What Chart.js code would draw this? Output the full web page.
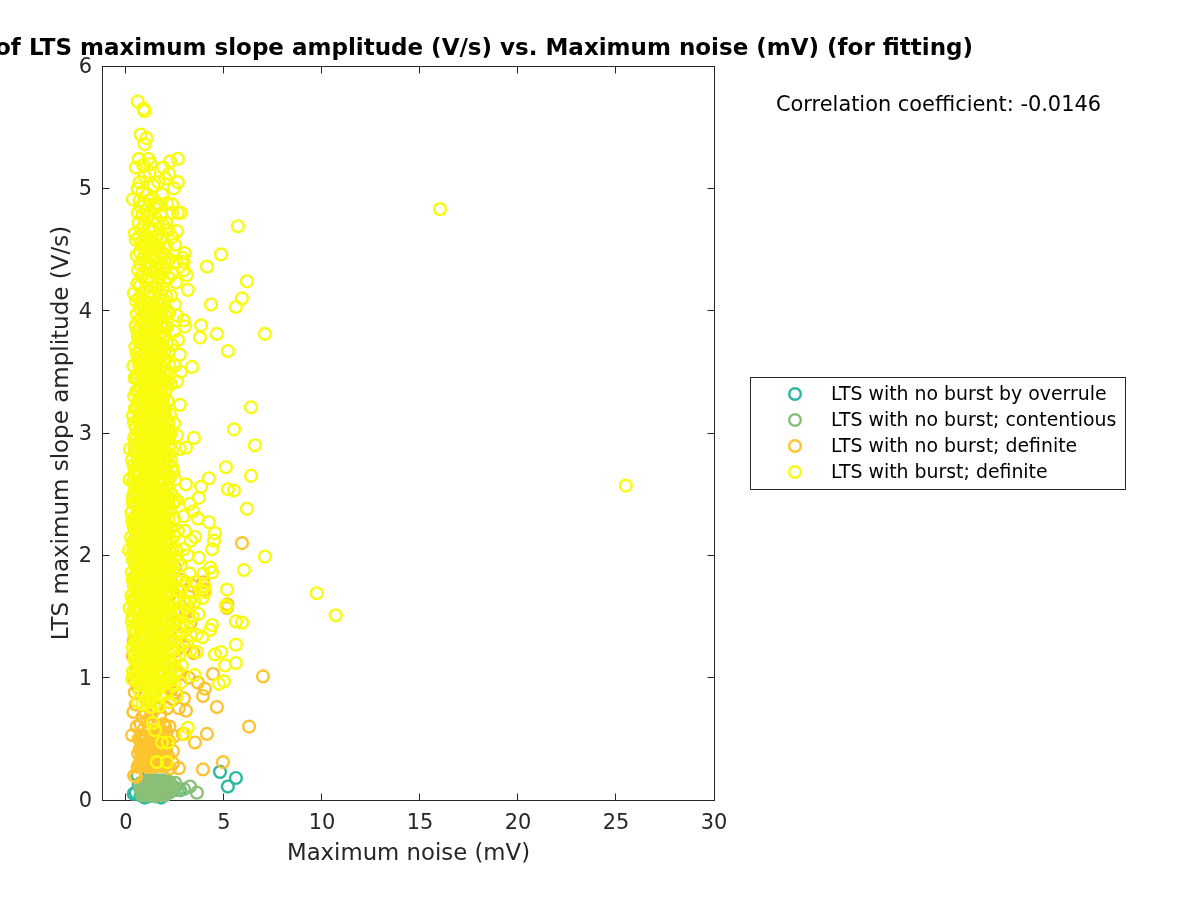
<!DOCTYPE html>
<html>
<head>
<meta charset="utf-8">
<title>LTS maximum slope amplitude vs. Maximum noise</title>
<script src="https://cdn.jsdelivr.net/npm/chart.js@4/dist/chart.umd.min.js"></script>
<style>
    body { margin: 0; background: #ffffff; }
    canvas { display: block; }
</style>
</head>
<body>
<canvas id="scatterChart" width="1200" height="900"></canvas>
<script>
// tick labels
const xTickValues = [0, 5, 10, 15, 20, 25, 30];
const yTickValues = [0, 1, 2, 3, 4, 5, 6];

// legend names
const seriesNames = ['LTS with no burst by overrule', 'LTS with no burst; contentious', 'LTS with no burst; definite', 'LTS with burst; definite'];

// values, [noise, slope]
const overrulePoints = [
    [4.8,0.23],[5.61,0.18],[5.2,0.11],[0.4,0.05],[0.5,0.06],[0.75,0.04],[0.95,0.02],[1.15,0.03],[1.6,0.03],[1.8,0.02],[1.95,0.05],
    [2.3,0.07],[2.75,0.08],[2.5,0.1],[0.6,0.2],[0.65,0.12],[1.3,0.05]
];
const contentiousPoints = [
    [3.62,0.06],[3.27,0.11],[2.96,0.09],[2.5,0.14],[2.45,0.1],[2.3,0.13],[2.62,0.08],[2.2,0.06],[2.05,0.15],[2.1,0.09],
    [0.75,0.08],[0.85,0.12],[0.9,0.06],[0.95,0.15],[1.0,0.09],[1.05,0.05],[1.1,0.13],[1.15,0.07],[1.2,0.11],[1.25,0.16],
    [1.28,0.04],[1.3,0.09],[1.35,0.13],[1.4,0.06],[1.45,0.1],[1.5,0.15],[1.52,0.05],[1.58,0.08],[1.6,0.12],[1.65,0.05],
    [1.7,0.15],[1.75,0.09],[1.8,0.06],[1.82,0.13],[1.9,0.1],[1.95,0.07],[1.98,0.14],[2.0,0.04],[1.12,0.16],[0.82,0.04],
    [1.42,0.16],[1.62,0.16],[0.92,0.11],[1.22,0.06],[1.48,0.03],[1.72,0.04],[1.88,0.16],[2.15,0.12],[2.25,0.09],[0.7,0.13],
    [0.78,0.14],[0.88,0.09],[0.98,0.12],[1.03,0.08],[1.08,0.16],[1.18,0.1],[1.26,0.13],[1.33,0.07],[1.38,0.11],[1.47,0.07],
    [1.55,0.12],[1.63,0.09],[1.68,0.12],[1.78,0.12],[1.85,0.08],[1.92,0.13],[2.02,0.11],[2.08,0.07],[2.18,0.15],[2.35,0.1],
    [0.72,0.1],[0.8,0.07],[1.0,0.05],[1.1,0.04],[1.37,0.04],[1.57,0.04],[1.77,0.05],[0.95,0.13],[1.17,0.14],[1.68,0.07]
];
const noBurstPoints = [
    [5.92,2.10],[6.99,1.01],[6.28,0.60],[4.95,0.31],[3.93,0.25],[4.64,0.76],[4.13,0.54],[4.44,1.03],[3.52,0.47],[3.06,0.73],
    [2.96,0.83],[3.67,0.96],[3.93,0.85],[4.03,0.91],[2.75,1.03],[3.2,1.0],[3.45,1.2],[4.0,1.72],[3.95,1.78],[3.05,1.55],
    [5.17,1.6],[5.15,1.57],[2.9,0.54],[2.7,0.26],[2.25,0.26],[2.4,0.4],[2.45,0.52],[2.4,0.3],[2.0,0.6],[1.55,0.75],
    [0.32,0.53],[0.35,1.18],[0.38,0.72],[0.5,0.78],[0.42,0.2],[0.52,0.19],[0.6,0.27],[0.7,0.29],[0.55,0.6],[0.65,0.5],
    [0.62,0.38],[0.72,0.42],[0.78,0.3],[0.85,0.29],[0.88,0.45],[0.9,0.35],[0.92,0.58],[0.98,0.29],[1.0,0.42],[1.02,0.32],
    [1.05,0.52],[1.08,0.28],[1.1,0.65],[1.12,0.38],[1.15,0.28],[1.18,0.48],[1.2,0.56],[1.22,0.29],[1.25,0.34],[1.28,0.44],
    [1.3,0.7],[1.32,0.27],[1.35,0.52],[1.38,0.3],[1.4,0.4],[1.42,0.62],[1.45,0.3],[1.48,0.47],[1.5,0.28],[1.52,0.36],
    [1.55,0.56],[1.58,0.28],[1.6,0.44],[1.62,0.32],[1.65,0.6],[1.68,0.29],[1.7,0.5],[1.72,0.38],[1.75,0.28],[1.78,0.44],
    [1.8,0.3],[1.82,0.56],[1.85,0.36],[1.88,0.28],[1.9,0.46],[1.92,0.62],[1.95,0.34],[1.98,0.5],[2.02,0.28],[2.05,0.42],
    [2.08,0.55],[2.1,0.29],[2.15,0.36],[2.2,0.48],[2.22,0.6],[1.1,0.82],[1.9,0.85],[2.1,0.75],[2.3,0.9],[2.55,0.88],
    [0.6,0.92],[0.45,0.98],[0.7,0.3],[0.82,0.52],[0.75,0.62],[0.85,0.68],[1.0,0.72],[1.25,0.8],[1.75,0.7],
    [0.88,0.28],[0.93,0.4],[0.97,0.5],[1.07,0.36],[1.13,0.46],[1.23,0.3],[1.27,0.52],
    [1.33,0.4],[1.37,0.3],[1.47,0.38],[1.53,0.5],[1.57,0.3],[1.67,0.42],[1.73,0.3],[1.77,0.52],
    [1.87,0.42],[1.93,0.28],[2.03,0.36],[0.85,0.36],[1.4,0.5],[0.75,0.5],[0.78,0.38],[1.1,0.27],
    // orange rings showing between the yellow ones at the edge of the cloud
    [2.3,1.12],[2.55,1.22],[2.8,1.35],[2.45,1.45],[2.7,1.62],[2.85,1.8],[2.5,1.9],[2.35,1.7],[3.2,1.7],[3.0,1.25],
    [2.6,1.05],[2.2,1.3],[2.15,0.95],[2.4,0.82],[2.7,0.75],[0.4,1.3],[0.45,0.88],[0.55,1.05],[3.3,1.45],[3.4,1.75]
];
const burstPoints = [
    // far from the main cloud
    [25.5,2.57],[16.02,4.83],[9.74,1.69],[10.7,1.51],[7.09,3.81],[7.09,1.99],[5.71,4.69],[4.85,4.46],[4.13,4.36],[6.17,4.24],
    [5.92,4.10],[5.61,4.03],[4.34,4.05],[3.83,3.88],[4.64,3.81],[3.78,3.78],[5.2,3.67],[3.37,3.54],[6.38,3.21],[5.51,3.03],
    [3.47,2.96],[6.58,2.90],[3.06,2.88],[5.1,2.72],[4.23,2.63],[6.38,2.65],[3.06,2.58],[3.83,2.56],[5.2,2.54],[5.51,2.53],
    [3.72,2.47],[6.17,2.38],[3.42,2.36],[4.23,2.27],[3.67,2.30],[4.54,2.18],[4.49,2.12],[3.52,2.15],[4.39,2.05],[3.72,1.98],
    [6.02,1.88],[4.29,1.90],[4.39,1.86],[3.95,1.85],[5.15,1.72],[5.1,1.59],[5.14,1.58],[5.61,1.46],[5.92,1.45],[4.39,1.43],
    [4.29,1.39],[5.61,1.27],[5.61,1.12],[4.85,1.21],[4.54,1.19],[5.05,1.10],[5.0,0.97],[4.74,0.95],[3.62,1.21],[4.0,1.75],
    [3.3,1.22],[3.1,1.6],[3.4,1.5],[3.7,1.52],[3.9,1.65],[4.05,1.7],[3.25,1.85],[3.55,1.78],[3.8,1.72],[3.15,2.0],
    [3.0,2.2],[3.3,2.12],[2.95,2.32],[3.25,2.42],[3.6,1.35],[3.9,1.33],[3.5,1.02],[3.16,0.59],[3.01,0.54],[1.58,0.31],
    [2.09,0.31],[1.84,0.47],[2.14,0.47],[1.38,0.63],[1.48,0.57],
    // sparse top of the cloud
    [0.6,5.71],[0.9,5.65],[0.95,5.63],[0.75,5.44],[1.05,5.41],[0.95,5.36],[0.65,5.24],[1.15,5.24],[2.65,5.24],[2.25,5.22],
    [0.5,5.17],[1.9,5.17],[0.88,5.19],[1.25,5.2],[2.0,5.08],[2.65,5.05],[2.45,5.0],[2.2,5.12],[0.35,4.91],[2.35,4.87],
    [2.8,4.8],[2.65,4.8],[2.35,4.8],[2.6,4.65],[0.45,4.63],[2.35,4.6],[2.5,4.54],[3.0,4.47],[2.95,4.4],[2.9,4.43],
    [3.1,4.29],[2.95,4.33],[3.16,4.17],[2.55,4.23],[2.6,3.96],[2.95,3.92],[3.0,3.87],[2.45,3.83],[2.65,3.76],[2.75,3.64],
    [2.2,4.42],[2.35,4.3],[2.55,4.4],[2.3,4.12],[2.5,4.05],[2.2,3.98],[2.35,3.72],[2.5,3.55],[2.8,3.5],[2.6,3.42],
    [0.7,5.05],[0.95,5.1],[1.2,5.13],[1.4,5.02],[1.65,5.05],[0.6,5.0],[0.85,4.97],[1.1,4.95],[1.35,4.92],[1.6,4.88],
    [1.85,4.95],[2.1,4.88],[0.75,4.85],[1.0,4.82],[1.25,4.79],[1.5,4.76],[1.8,4.78],[2.05,4.72],[0.65,4.72],[0.9,4.7],
    [1.15,4.67],[1.4,4.65],[1.65,4.62],[1.9,4.6],[2.15,4.66],[0.5,4.58],[0.78,4.56],[1.02,4.53],[1.28,4.55],[1.55,4.5],
    [1.78,4.48],[2.05,4.52],[0.55,4.45],[0.85,4.42],[1.1,4.4],[1.35,4.43],[1.62,4.38],[1.88,4.36],[2.1,4.4],[0.62,4.33],
    [0.92,4.3],[1.18,4.28],[1.45,4.31],[1.7,4.26],[1.95,4.24],[2.18,4.27],[0.4,4.14],[0.7,4.2],[1.0,4.18],[1.25,4.15],
    [1.52,4.19],[1.78,4.14],[2.05,4.12],[0.52,4.08],[0.8,4.05],[1.08,4.07],[1.35,4.03],[1.6,4.06],[1.85,4.01],[2.12,4.0],
    // dense body
    [0.55,3.97],[0.78,3.94],[1.0,3.98],[1.22,3.92],[1.42,3.96],[1.65,3.93],[1.88,3.9],[2.1,3.87],[0.5,3.88],[0.72,3.86],
    [0.92,3.84],[1.14,3.88],[1.34,3.83],[1.55,3.86],[1.76,3.82],[1.98,3.8],[0.62,3.78],[0.84,3.76],[1.05,3.79],[1.26,3.74],
    [1.46,3.77],[1.68,3.73],[1.9,3.71],[2.18,3.66],[0.48,3.7],[0.7,3.68],[0.95,3.66],[1.16,3.69],[1.38,3.64],[1.58,3.67],
    [1.8,3.63],[2.02,3.6],[0.6,3.6],[0.82,3.58],[1.03,3.56],[1.24,3.6],[1.44,3.55],[1.64,3.58],[1.85,3.54],[2.1,3.5],
    [0.38,3.55],[0.72,3.5],[0.93,3.48],[1.13,3.52],[1.33,3.47],[1.53,3.5],[1.73,3.46],[1.95,3.44],[0.55,3.45],[0.82,3.42],
    [1.02,3.4],[1.22,3.44],[1.42,3.39],[1.62,3.42],[1.82,3.38],[2.05,3.36],[2.3,3.4],[0.62,3.35],[0.9,3.33],[1.1,3.31],
    [1.3,3.35],[1.5,3.3],[1.7,3.33],[1.9,3.29],[0.42,3.3],[0.72,3.26],[0.98,3.24],[1.18,3.27],[1.38,3.22],[1.58,3.25],
    [1.78,3.21],[2.0,3.2],[2.75,3.23],[0.55,3.2],[0.82,3.17],[1.05,3.15],[1.25,3.19],[1.45,3.14],[1.65,3.17],[1.85,3.13],
    [2.25,3.15],[0.36,3.14],[0.68,3.1],[0.92,3.08],[1.12,3.11],[1.32,3.06],[1.52,3.09],[1.72,3.05],[1.95,3.03],[2.45,3.08],
    [0.5,3.04],[0.78,3.01],[1.0,2.99],[1.2,3.03],[1.4,2.98],[1.6,3.01],[1.8,2.97],[2.05,2.95],[2.6,2.98],[0.42,2.96],
    [0.66,2.92],[0.88,2.9],[1.08,2.94],[1.28,2.89],[1.48,2.92],[1.68,2.88],[1.9,2.86],[2.2,2.9],[0.2,2.87],[0.45,2.85],
    [0.72,2.83],[0.96,2.81],[1.16,2.85],[1.36,2.8],[1.56,2.83],[1.76,2.79],[2.0,2.77],[2.75,2.87],[0.32,2.78],[0.6,2.76],
    [0.84,2.73],[1.04,2.77],[1.24,2.72],[1.44,2.75],[1.64,2.71],[1.85,2.69],[2.35,2.72],[0.45,2.7],[0.7,2.67],[0.92,2.65],
    [1.12,2.69],[1.32,2.64],[1.52,2.67],[1.72,2.63],[1.95,2.61],[0.18,2.62],[0.36,2.6],[0.6,2.58],[0.82,2.56],[1.02,2.6],
    [1.22,2.55],[1.42,2.58],[1.62,2.54],[1.82,2.52],[2.2,2.55],[2.5,2.62],[0.42,2.52],[0.68,2.49],[0.9,2.47],[1.1,2.51],
    [1.3,2.46],[1.5,2.49],[1.7,2.45],[1.92,2.43],[2.6,2.45],[0.34,2.43],[0.56,2.41],[0.78,2.38],[0.98,2.42],[1.18,2.37],
    [1.38,2.4],[1.58,2.36],[1.78,2.34],[2.1,2.38],[2.45,2.3],[0.28,2.35],[0.48,2.32],[0.7,2.3],[0.9,2.28],[1.1,2.32],
    [1.3,2.27],[1.5,2.3],[1.7,2.26],[1.95,2.24],[2.65,2.2],[0.38,2.24],[0.6,2.21],[0.82,2.19],[1.02,2.23],[1.22,2.18],
    [1.42,2.21],[1.62,2.17],[1.82,2.15],[2.25,2.12],[0.26,2.15],[0.48,2.12],[0.7,2.1],[0.92,2.08],[1.12,2.12],[1.32,2.07],
    [1.52,2.1],[1.72,2.06],[1.95,2.04],[2.55,2.05],[0.16,2.04],[0.36,2.03],[0.58,2.0],[0.8,1.98],[1.0,2.02],[1.2,1.97],
    [1.4,2.0],[1.6,1.96],[1.8,1.94],[2.15,1.98],[2.8,1.92],[0.44,1.94],[0.66,1.91],[0.88,1.89],[1.08,1.93],[1.28,1.88],
    [1.48,1.91],[1.68,1.87],[1.9,1.85],[2.4,1.86],[0.3,1.86],[0.52,1.83],[0.74,1.81],[0.96,1.79],[1.16,1.83],[1.36,1.78],
    [1.56,1.81],[1.76,1.77],[2.0,1.75],[2.9,1.75],[0.4,1.75],[0.62,1.72],[0.84,1.7],[1.04,1.74],[1.24,1.69],[1.44,1.72],
    [1.64,1.68],[1.85,1.66],[2.25,1.7],[2.6,1.66],[0.28,1.67],[0.5,1.64],[0.72,1.62],[0.94,1.6],[1.14,1.64],[1.34,1.59],
    [1.54,1.62],[1.74,1.58],[2.0,1.56],[2.75,1.55],[0.18,1.57],[0.38,1.55],[0.6,1.53],[0.82,1.51],[1.02,1.55],[1.22,1.5],
    [1.42,1.53],[1.62,1.49],[1.85,1.47],[2.35,1.5],[2.95,1.45],[0.3,1.46],[0.52,1.44],[0.74,1.41],[0.96,1.39],[1.16,1.43],
    [1.36,1.38],[1.56,1.41],[1.76,1.37],[2.05,1.35],[2.6,1.38],[0.42,1.35],[0.64,1.32],[0.86,1.3],[1.06,1.34],[1.26,1.29],
    [1.46,1.32],[1.66,1.28],[1.9,1.26],[2.25,1.3],[2.9,1.28],[0.34,1.25],[0.56,1.22],[0.78,1.2],[0.98,1.24],[1.18,1.19],
    [1.38,1.22],[1.58,1.18],[1.8,1.16],[2.15,1.14],[2.7,1.18],[0.46,1.14],[0.68,1.11],[0.9,1.09],[1.1,1.13],[1.3,1.08],
    [1.5,1.11],[1.7,1.07],[1.95,1.05],[2.4,1.08],[0.35,1.05],[0.58,1.0],[0.8,0.98],[1.02,1.02],[1.22,0.97],[1.42,1.0],
    [1.62,0.96],[1.85,0.94],[2.3,0.98],[2.8,0.96],[0.32,0.99],[0.7,0.89],[0.92,0.87],[1.14,0.91],[1.34,0.86],[1.54,0.89],
    [1.74,0.85],[2.05,0.87],[2.6,0.85],[0.85,0.78],[1.05,0.8],[1.28,0.76],[1.5,0.79],[1.7,0.77],[2.2,0.8],[0.62,0.8],
    [0.9,3.03],[1.3,2.96],[1.7,2.93],[0.8,2.87],[1.2,2.78],[1.6,2.74],[0.55,2.68],[1.0,2.7],[1.4,2.62],[1.8,2.6],
    [0.75,2.53],[1.15,2.44],[1.55,2.42],[0.6,2.35],[1.0,2.36],[1.4,2.34],[1.8,2.28],[0.8,2.25],[1.2,2.25],[1.6,2.23],
    [0.5,2.18],[1.0,2.15],[1.45,2.14],[1.85,2.08],[0.7,2.04],[1.1,2.05],[1.5,2.03],[0.9,1.95],[1.3,1.94],[1.7,1.92],
    [0.55,1.88],[1.0,1.86],[1.4,1.85],[1.82,1.82],[0.75,1.76],[1.15,1.76],[1.55,1.74],[0.9,1.67],[1.3,1.66],[1.7,1.64],
    [0.55,1.58],[1.05,1.58],[1.45,1.56],[1.82,1.54],[0.72,1.47],[1.15,1.47],[1.55,1.45],[0.9,1.36],[1.3,1.35],[1.7,1.33],
    [0.55,1.28],[1.05,1.26],[1.45,1.25],[1.82,1.22],[0.75,1.16],[1.2,1.15],[1.6,1.13],[0.9,1.04],[1.3,1.03],[1.75,1.01],
    // extra pass so the core closes up into solid colour
    [0.66,3.92],[0.88,3.9],[1.1,3.94],[1.32,3.89],[1.54,3.92],[1.76,3.88],[2.0,3.85],[0.58,3.83],[0.8,3.81],[1.02,3.85],
    [1.24,3.8],[1.46,3.83],[1.68,3.79],[1.9,3.77],[2.08,3.74],[0.68,3.74],[0.9,3.72],[1.12,3.75],[1.33,3.7],[1.54,3.73],
    [1.75,3.69],[1.98,3.67],[0.55,3.65],[0.78,3.63],[1.0,3.61],[1.2,3.65],[1.42,3.6],[1.62,3.63],[1.9,3.59],[2.2,3.56],
    [0.68,3.55],[0.9,3.53],[1.1,3.57],[1.3,3.52],[1.5,3.55],[1.72,3.51],[1.95,3.5],[0.62,3.48],[0.84,3.46],[1.06,3.44],
    [1.26,3.49],[1.46,3.44],[1.66,3.47],[1.88,3.43],[2.15,3.42],[0.72,3.39],[0.94,3.37],[1.16,3.41],[1.36,3.36],[1.56,3.39],
    [1.76,3.35],[2.0,3.32],[0.52,3.34],[0.8,3.31],[1.02,3.28],[1.22,3.32],[1.42,3.28],[1.62,3.3],[1.84,3.26],[2.12,3.26],
    [0.62,3.25],[0.88,3.22],[1.08,3.2],[1.3,3.24],[1.5,3.19],[1.7,3.22],[1.92,3.18],[0.72,3.16],[0.95,3.13],[1.15,3.17],
    [1.35,3.12],[1.55,3.15],[1.75,3.11],[2.05,3.1],[0.58,3.1],[0.82,3.07],[1.04,3.05],[1.24,3.09],[1.44,3.04],[1.64,3.07],
    [1.85,3.03],[2.2,3.02],[0.68,3.01],[0.94,2.97],[1.14,2.99],[1.34,2.94],[1.54,2.97],[1.74,2.95],[1.96,2.92],[0.56,2.95],
    [0.76,2.92],[1.0,2.88],[1.2,2.91],[1.4,2.86],[1.6,2.89],[1.8,2.85],[2.08,2.84],[0.54,2.84],[0.84,2.8],[1.06,2.84],
    [1.28,2.77],[1.48,2.79],[1.68,2.81],[1.9,2.76],[2.15,2.75],[0.68,2.74],[0.92,2.75],[1.12,2.74],[1.36,2.7],[1.56,2.72],
    [1.76,2.7],[2.05,2.68],[0.52,2.64],[0.78,2.62],[0.98,2.63],[1.2,2.64],[1.46,2.66],[1.66,2.62],[1.88,2.58],[2.15,2.62],
    [0.46,2.58],[0.7,2.55],[0.92,2.53],[1.12,2.57],[1.32,2.52],[1.52,2.55],[1.72,2.52],[2.0,2.5],[0.56,2.49],[0.8,2.46],
    [1.02,2.45],[1.22,2.48],[1.42,2.44],[1.62,2.46],[1.82,2.42],[2.15,2.44],[0.46,2.42],[0.68,2.39],[0.9,2.37],[1.1,2.41],
    [1.3,2.36],[1.5,2.39],[1.7,2.35],[1.95,2.33],[0.4,2.3],[0.6,2.28],[0.82,2.31],[1.02,2.29],[1.22,2.31],[1.42,2.28],
    [1.62,2.3],[1.86,2.26],[2.1,2.25],[0.5,2.25],[0.72,2.2],[0.92,2.22],[1.12,2.19],[1.32,2.2],[1.52,2.18],[1.72,2.2],
    [1.98,2.16],[0.4,2.12],[0.62,2.14],[0.82,2.12],[1.02,2.1],[1.22,2.12],[1.42,2.1],[1.62,2.12],[1.82,2.04],[2.1,2.08],
    [0.5,2.07],[0.75,2.05],[0.95,2.03],[1.15,2.01],[1.35,2.03],[1.55,2.0],[1.75,2.01],[2.0,1.98],[0.42,2.0],[0.66,1.97],
    [0.86,1.95],[1.06,1.98],[1.26,1.92],[1.46,1.95],[1.66,1.96],[1.9,1.92],[2.2,1.9],[0.56,1.92],[0.78,1.88],[0.98,1.9],
    [1.18,1.88],[1.38,1.9],[1.58,1.86],[1.78,1.86],[2.05,1.84],[0.42,1.82],[0.64,1.8],[0.86,1.82],[1.06,1.8],[1.26,1.82],
    [1.46,1.79],[1.66,1.8],[1.9,1.76],[2.2,1.78],[0.52,1.76],[0.72,1.73],[0.94,1.72],[1.14,1.7],[1.34,1.72],[1.54,1.68],
    [1.74,1.7],[2.05,1.66],[0.4,1.65],[0.62,1.67],[0.82,1.64],[1.02,1.66],[1.22,1.63],[1.42,1.65],[1.62,1.6],[1.92,1.6],
    [2.2,1.58],[0.48,1.58],[0.7,1.56],[0.92,1.54],[1.12,1.57],[1.32,1.52],[1.52,1.55],[1.72,1.52],[2.0,1.48],[0.42,1.48],
    [0.62,1.46],[0.82,1.44],[1.04,1.47],[1.24,1.42],[1.44,1.45],[1.64,1.42],[1.92,1.4],[2.2,1.42],[0.52,1.38],[0.74,1.36],
    [0.94,1.34],[1.14,1.37],[1.34,1.32],[1.54,1.35],[1.74,1.3],[2.0,1.3],[0.45,1.28],[0.66,1.26],[0.86,1.24],[1.08,1.22],
    [1.26,1.24],[1.5,1.21],[1.7,1.2],[1.98,1.2],[0.58,1.16],[0.8,1.14],[1.0,1.16],[1.22,1.11],[1.42,1.14],[1.62,1.1],
    [1.9,1.12],[0.5,1.08],[0.72,1.05],[0.94,1.02],[1.14,1.06],[1.36,1.05],[1.56,1.03],[1.82,1.04],[2.1,1.0],[0.66,0.95],
    [0.88,0.94],[1.08,0.96],[1.28,0.93],[1.48,0.94],[1.7,0.92],[1.98,0.95],
    // same again through the upper part
    [0.7,4.9],[0.95,4.88],[1.2,4.9],[1.45,4.84],[1.7,4.86],[0.6,4.8],[0.85,4.78],[1.1,4.76],[1.35,4.74],[1.62,4.72],
    [1.9,4.7],[0.78,4.66],[1.02,4.62],[1.28,4.66],[1.52,4.6],[1.78,4.58],[0.66,4.6],[0.9,4.54],[1.15,4.56],[1.4,4.52],
    [1.68,4.52],[1.95,4.46],[0.7,4.48],[0.96,4.46],[1.22,4.46],[1.48,4.42],[1.75,4.42],[0.72,4.38],[1.0,4.35],[1.26,4.36],
    [1.55,4.33],[1.82,4.3],[2.0,4.34],[0.8,4.28],[1.06,4.24],[1.32,4.24],[1.6,4.22],[1.88,4.18],[0.58,4.22],[0.84,4.14],
    [1.12,4.12],[1.4,4.12],[1.68,4.1],[1.95,4.08],[0.66,4.1],[0.94,4.02],[1.2,4.02],[1.48,4.0],[1.74,3.98],[2.0,3.96],
    [0.7,4.02],[0.9,3.98],[1.12,3.98],[1.32,3.97],[1.54,3.98],[1.78,3.95],
    // right flank of the core, wider between 1 and 3
    [2.02,3.14],[2.16,3.08],[2.3,3.0],[2.06,2.98],[2.2,2.96],[2.35,2.86],[2.12,2.8],[2.28,2.78],[2.42,2.68],[2.1,2.66],
    [2.25,2.64],[2.05,2.56],[2.32,2.5],[2.14,2.48],[2.48,2.44],[2.04,2.42],[2.28,2.36],[2.4,2.42],[2.18,2.3],[2.05,2.2],
    [2.3,2.22],[2.45,2.16],[2.15,2.18],[2.05,2.12],[2.35,2.05],[2.22,2.04],[2.5,1.98],[2.08,1.96],[2.3,1.95],[2.65,1.95],
    [2.12,1.86],[2.25,1.84],[2.55,1.8],[2.1,1.76],[2.35,1.75],[2.72,1.72],[2.15,1.68],[2.45,1.62],[2.1,1.6],[2.3,1.58],
    [2.6,1.52],[2.15,1.52],[2.42,1.44],[2.1,1.46],[2.3,1.38],[2.75,1.42],[2.12,1.36],[2.5,1.3],[2.1,1.26],[2.35,1.22],
    [2.65,1.26],[2.05,1.18],[2.5,1.15],[2.28,1.12],[2.05,1.1],[2.6,1.06],[2.2,1.04],[2.85,1.1],[2.12,0.98],[2.45,0.95],
    [3.1,1.42],[3.25,1.62],[3.05,1.78],[2.95,2.05],[3.15,1.3],[2.95,1.62],[3.35,1.7],[3.5,1.62],[3.2,1.5],[3.3,1.35],
    // left edge
    [0.44,3.45],[0.46,3.2],[0.42,3.08],[0.44,2.9],[0.38,2.74],[0.4,2.66],[0.36,2.48],[0.32,2.28],[0.34,2.1],[0.36,1.96],
    [0.34,1.8],[0.36,1.62],[0.34,1.5],[0.38,1.4],[0.42,1.2],[0.42,1.02]
];

const seriesColors = ['#2bb8a0', '#8abf78', '#fec42f', '#f9fb0e'];
const allPoints = [overrulePoints, contentiousPoints, noBurstPoints, burstPoints];

const darkInk = '#262626';

// axes box, inward ticks, y tick labels, title, correlation text and legend box
const matlabLook = {
    id: 'matlabLook',
    beforeDatasetsDraw(chart) {
        const ctx = chart.ctx, area = chart.chartArea;
        const left = area.left - 0.5, right = area.right + 0.5, top = area.top + 0.5, bottom = area.bottom + 0.5;
        ctx.save();
        ctx.strokeStyle = darkInk;
        ctx.lineWidth = 1;
        ctx.strokeRect(left, top, right - left, bottom - top);
        ctx.beginPath();
        xTickValues.forEach(v => {
            const px = Math.floor(chart.scales.x.getPixelForValue(v)) + 0.5;
            ctx.moveTo(px, bottom); ctx.lineTo(px, bottom - 7);
            ctx.moveTo(px, top); ctx.lineTo(px, top + 7);
        });
        yTickValues.forEach(v => {
            const py = Math.floor(chart.scales.y.getPixelForValue(v)) + 0.5;
            ctx.moveTo(left, py); ctx.lineTo(left + 7, py);
            ctx.moveTo(right, py); ctx.lineTo(right - 7, py);
        });
        ctx.stroke();

        // y tick labels sit a little lower than the library would put them
        ctx.fillStyle = darkInk;
        ctx.font = '20.9px "DejaVu Sans"';
        ctx.textAlign = 'right';
        ctx.textBaseline = 'middle';
        yTickValues.forEach(v => {
            ctx.fillText(String(v), area.left - 11, chart.scales.y.getPixelForValue(v) + 1.5);
        });
        ctx.restore();
    },
    afterDraw(chart) {
        const ctx = chart.ctx;
        ctx.save();
        ctx.fillStyle = '#000000';
        ctx.textBaseline = 'middle';
        ctx.font = 'bold 23px "DejaVu Sans"';
        ctx.textAlign = 'right';
        ctx.fillText('of LTS maximum slope amplitude (V/s) vs. Maximum noise (mV) (for fitting)', 973, 49);
        ctx.font = '20.9px "DejaVu Sans"';
        ctx.textAlign = 'left';
        ctx.fillText('Correlation coefficient: -0.0146', 776, 106);

        // legend
        ctx.fillStyle = '#ffffff';
        ctx.fillRect(750.5, 377.5, 375, 112);
        ctx.strokeStyle = darkInk;
        ctx.lineWidth = 1;
        ctx.strokeRect(750.5, 377.5, 375, 112);
        ctx.font = '18.9px "DejaVu Sans"';
        seriesNames.forEach((name, i) => {
            const rowY = 394 + i * 26;
            ctx.strokeStyle = seriesColors[i];
            ctx.lineWidth = 2.4;
            ctx.beginPath();
            ctx.arc(795, rowY, 5.8, 0, Math.PI * 2);
            ctx.stroke();
            ctx.fillStyle = '#000000';
            ctx.fillText(name, 831, rowY + 1);
        });
        ctx.restore();
    }
};

new Chart(document.getElementById('scatterChart'), {
    type: 'scatter',
    data: {
        datasets: allPoints.map((points, i) => ({
            label: seriesNames[i],
            data: points.map(p => ({ x: p[0], y: p[1] })),
            borderColor: seriesColors[i],
            backgroundColor: 'rgba(0, 0, 0, 0)',
            borderWidth: 2.4,
            pointRadius: 5.9,
            clip: false,
            order: 4 - i
        }))
    },
    options: {
        responsive: false,
        animation: false,
        layout: { padding: { left: 48, right: 486, top: 66, bottom: 28 } },
        plugins: { legend: { display: false }, title: { display: false }, tooltip: { enabled: false } },
        scales: {
            x: {
                type: 'linear',
                min: -1.17,
                max: 30,
                afterBuildTicks: axis => { axis.ticks = xTickValues.map(v => ({ value: v })); },
                afterFit: axis => { axis.height = 72; },
                grid: { display: false },
                border: { display: false },
                ticks: { color: darkInk, font: { family: 'DejaVu Sans', size: 20.9 }, padding: 3, maxRotation: 0 },
                title: { display: true, text: 'Maximum noise (mV)', color: darkInk, font: { family: 'DejaVu Sans', size: 22.8 }, padding: { top: 0, bottom: 4 } }
            },
            y: {
                type: 'linear',
                min: 0,
                max: 6,
                afterBuildTicks: axis => { axis.ticks = yTickValues.map(v => ({ value: v })); },
                afterFit: axis => { axis.width = 55; },
                grid: { display: false },
                border: { display: false },
                ticks: { display: false },
                title: { display: true, text: 'LTS maximum slope amplitude (V/s)', color: darkInk, font: { family: 'DejaVu Sans', size: 23 }, padding: { top: 0, bottom: 0 } }
            }
        }
    },
    plugins: [matlabLook]
});
</script>
</body>
</html>
